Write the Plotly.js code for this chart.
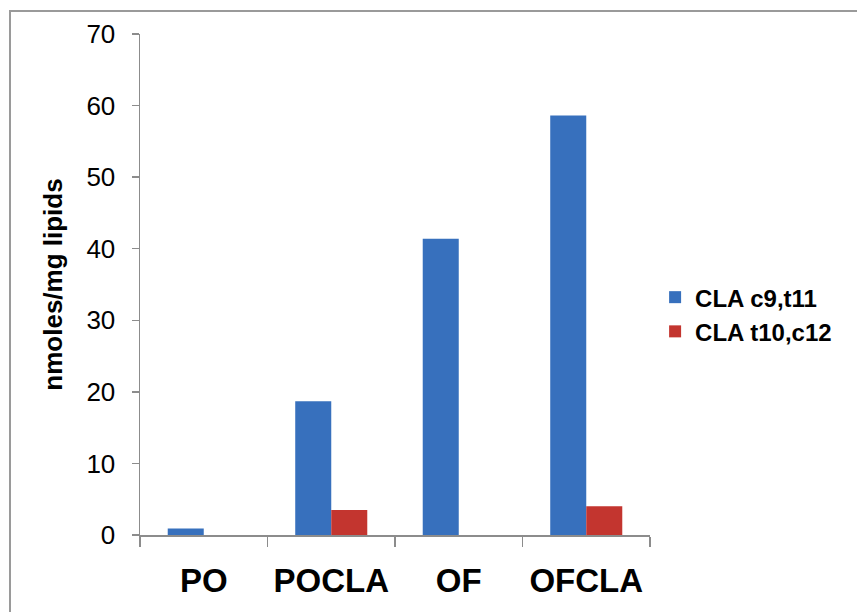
<!DOCTYPE html>
<html>
<head>
<meta charset="utf-8">
<script src="https://cdn.plot.ly/plotly-3.0.1.min.js"></script>
<style>
  html, body { margin: 0; padding: 0; background: #fff; }
  #frame { position: absolute; left: 9px; top: 10px; width: 860px; height: 620px;
           border-left: 2px solid #9a9a9a; border-top: 2px solid #9a9a9a; }
  #chart { position: absolute; left: 0; top: 0; width: 857px; height: 612px; }
</style>
</head>
<body>
<div id="frame"></div>
<div id="chart"></div>
<script>
const categories = ["PO", "POCLA", "OF", "OFCLA"];
const seriesNames = ["CLA c9,t11", "CLA t10,c12"];
const c9t11 = [0.9, 18.7, 41.4, 58.6];
const t10c12 = [0, 3.5, 0, 4.0];
const yTicks = [0, 10, 20, 30, 40, 50, 60, 70];

const font = "'Liberation Sans', Arial, sans-serif";

const traces = [
  { type: "bar", name: seriesNames[0], x: categories, y: c9t11,
    marker: { color: "#3770bd" } },
  { type: "bar", name: seriesNames[1], x: categories, y: t10c12,
    marker: { color: "#c3352f" } }
];

const layout = {
  width: 857, height: 612,
  paper_bgcolor: "rgba(0,0,0,0)", plot_bgcolor: "rgba(0,0,0,0)",
  margin: { l: 140, r: 207, t: 33.5, b: 76.5 },
  barmode: "group", bargap: 0.435, bargroupgap: 0,
  font: { family: font, color: "#000" },
  xaxis: {
    showline: true, linecolor: "#8c8c8c", linewidth: 1.5,
    ticks: "outside", tickson: "boundaries", ticklen: 10, tickcolor: "#8c8c8c", tickwidth: 1.5,
    tickfont: { size: 33, family: font, weight: "bold" }, tickangle: 0,
    ticklabelstandoff: 16, showgrid: false, zeroline: false
  },
  yaxis: {
    range: [0, 70], tickvals: yTicks, ticktext: yTicks.map(String),
    showline: true, linecolor: "#8c8c8c", linewidth: 1.5,
    ticks: "outside", ticklen: 7, tickcolor: "#8c8c8c", tickwidth: 1.5,
    tickfont: { size: 26, family: font },
    ticklabelstandoff: 11, showgrid: false, zeroline: false,
    title: { text: "nmoles/mg lipids", font: { size: 26, family: font, weight: "bold" }, standoff: 16 }
  },
  legend: {
    x: 1.01, xanchor: "left", y: 0.44, yanchor: "middle",
    font: { size: 24, family: font, weight: "bold" },
    bgcolor: "rgba(0,0,0,0)", itemwidth: 30, tracegroupgap: 0
  },
  showlegend: true
};

Plotly.newPlot("chart", traces, layout, { staticPlot: true, displayModeBar: false });
</script>
</body>
</html>
